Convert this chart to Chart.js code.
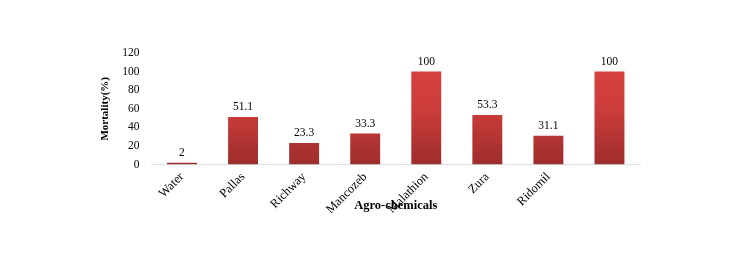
<!DOCTYPE html>
<html>
<head>
<meta charset="utf-8">
<script src="https://cdn.jsdelivr.net/npm/chart.js@4.4.0/dist/chart.umd.min.js"></script>
<style>
  html, body { margin: 0; padding: 0; background: #fff; }
  #wrap { width: 738px; height: 272px; }
</style>
</head>
<body>
<div id="wrap"><canvas id="mortalityChart" width="738" height="272"></canvas></div>
<script>
// chart data
const chemicals = ['Water', 'Pallas', 'Richway', 'Mancozeb', 'Malathion', 'Zura', 'Ridomil', ''];
const mortality = [2, 51.1, 23.3, 33.3, 100, 53.3, 31.1, 100];
const yTicks = [0, 20, 40, 60, 80, 100, 120];

const serif = "'Liberation Serif', 'Times New Roman', serif";

// draws the numbers above each bar
const valueLabels = {
    id: 'valueLabels',
    afterDatasetsDraw(chart) {
        const ctx = chart.ctx;
        const meta = chart.getDatasetMeta(0);
        ctx.save();
        ctx.font = '11.5px ' + serif;
        ctx.fillStyle = '#000';
        ctx.textAlign = 'center';
        ctx.textBaseline = 'bottom';
        meta.data.forEach((bar, i) => {
            ctx.fillText(String(mortality[i]), bar.x, bar.y - 4);
        });
        ctx.restore();
    }
};

function barFill(context) {
    const area = context.chart.chartArea;
    if (!area) return '#c43a3a';
    const g = context.chart.ctx.createLinearGradient(0, area.top, 0, area.bottom);
    g.addColorStop(0, '#d9423f');
    g.addColorStop(0.5, '#cc3d3b');
    g.addColorStop(1, '#9e2d2c');
    return g;
}

const ctx = document.getElementById('mortalityChart').getContext('2d');
const mortalityChart = new Chart(ctx, {
    type: 'bar',
    data: {
        labels: chemicals,
        datasets: [{
            label: 'Mortality(%)',
            data: mortality,
            backgroundColor: barFill,
            borderWidth: 0,
            categoryPercentage: 1,
            barPercentage: 0.49
        }]
    },
    options: {
        responsive: false,
        maintainAspectRatio: false,
        animation: false,
        layout: { padding: { left: 99, right: 98, top: 53, bottom: 59 } },
        plugins: {
            legend: { display: false },
            tooltip: { enabled: false }
        },
        scales: {
            x: {
                grid: { display: false, drawTicks: false },
                border: { display: true, color: '#d9e1ec', width: 1 },
                ticks: {
                    color: '#000',
                    font: { family: serif, size: 12.5 },
                    minRotation: 45,
                    maxRotation: 45,
                    padding: 5,
                    autoSkip: false
                },
                title: {
                    display: true,
                    text: 'Agro-chemicals',
                    color: '#000',
                    font: { family: serif, size: 12.5, weight: 'bold' },
                    padding: { top: -24, bottom: 0 }
                }
            },
            y: {
                min: 0,
                max: 120,
                afterBuildTicks(axis) {
                    axis.ticks = yTicks.map(v => ({ value: v }));
                },
                grid: { display: false, drawTicks: false },
                border: { display: false },
                ticks: {
                    color: '#000',
                    font: { family: serif, size: 11.5 },
                    padding: 12
                },
                title: {
                    display: true,
                    text: 'Mortality(%)',
                    color: '#000',
                    font: { family: serif, size: 11, weight: 'bold' },
                    padding: { top: 0, bottom: -2 }
                }
            }
        }
    },
    plugins: [valueLabels]
});
</script>
</body>
</html>
